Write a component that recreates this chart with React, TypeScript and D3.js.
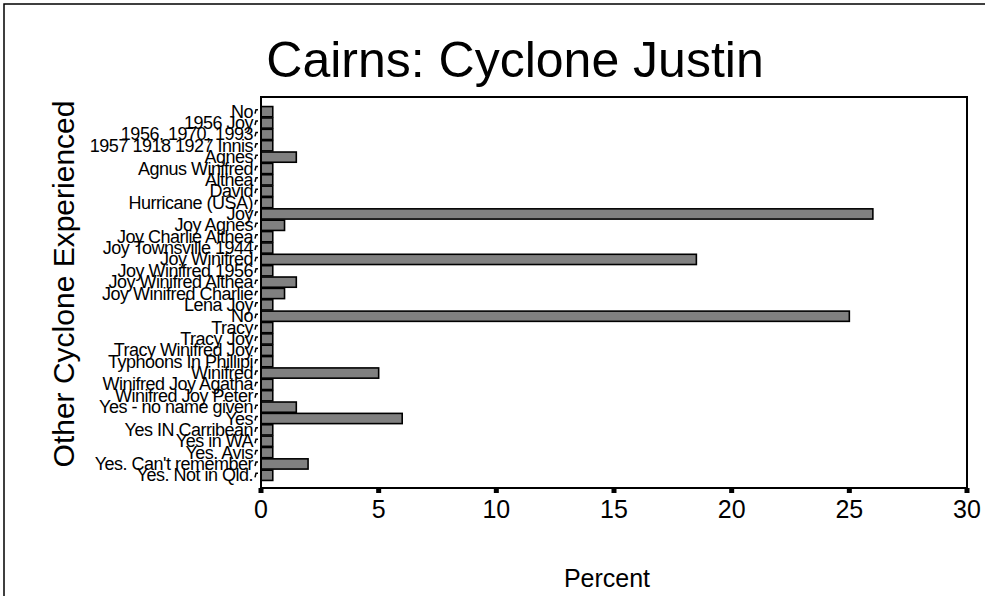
import React from "react";
import * as d3 from "d3";

const categories: string[] = [
  "No",
  "1956 Joy",
  "1956, 1970, 1993",
  "1957 1918 1927 Innis",
  "Agnes",
  "Agnus Winifred",
  "Althea",
  "David",
  "Hurricane (USA)",
  "Joy",
  "Joy Agnes",
  "Joy Charlie Althea",
  "Joy Townsville 1944",
  "Joy Winifred",
  "Joy Winifred 1956",
  "Joy Winifred Althea",
  "Joy Winifred Charlie",
  "Lena Joy",
  "No",
  "Tracy",
  "Tracy Joy",
  "Tracy Winifred Joy",
  "Typhoons In Phillipi",
  "Winifred",
  "Winifred Joy Agatha",
  "Winifred Joy Peter",
  "Yes - no name given",
  "Yes",
  "Yes IN Carribean",
  "Yes in WA",
  "Yes. Avis",
  "Yes. Can't remember",
  "Yes. Not in Qld.",
];

const percents: number[] = [
  0.5, 0.5, 0.5, 0.5, 1.5, 0.5, 0.5, 0.5, 0.5, 26.0, 1.0, 0.5, 0.5, 18.5, 0.5,
  1.5, 1.0, 0.5, 25.0, 0.5, 0.5, 0.5, 0.5, 5.0, 0.5, 0.5, 1.5, 6.0, 0.5, 0.5,
  0.5, 2.0, 0.5,
];

const xTicks: number[] = [0, 5, 10, 15, 20, 25, 30];

const title = "Cairns: Cyclone Justin";
const xTitle = "Percent";
const yTitle = "Other Cyclone Experienced";

const W = 985;
const H = 596;
const left = 261;
const right = 967;
const top = 97;
const bottom = 488;

export default function App() {
  const x = d3.scaleLinear().domain([0, 30]).range([left, right]);
  const y = d3
    .scaleBand<number>()
    .domain(categories.map((_, i) => i))
    .range([106, 481])
    .paddingInner(0.1)
    .paddingOuter(0.05);
  const font = "'Liberation Sans', Arial, Helvetica, sans-serif";

  return (
    <svg
      width={W}
      height={H}
      style={{ position: "absolute", left: 0, top: 0, background: "#fff" }}
      fontFamily={font}
    >
      <rect x={0} y={0} width={W} height={H} fill="#fff" />
      <rect x={4} y={4} width={W + 10} height={H + 10} fill="none" stroke="#000" strokeWidth={1.5} />
      <text x={515} y={77} textAnchor="middle" fontSize={50} fill="#000">
        {title}
      </text>
      {categories.map((c, i) => (
        <rect
          key={"b" + i}
          x={x(0)}
          y={y(i)!}
          width={x(percents[i]) - x(0)}
          height={y.bandwidth()}
          fill="#808080"
          stroke="#000"
          strokeWidth={1.6}
        />
      ))}
      <rect
        x={left}
        y={top}
        width={right - left}
        height={bottom - top}
        fill="none"
        stroke="#000"
        strokeWidth={2}
      />
      {categories.map((c, i) => {
        const cy = y(i)! + y.bandwidth() / 2;
        return (
          <g key={"l" + i}>
            <path
              d={`M${left - 6},${cy + 2} L${left - 5},${cy - 2} L${left - 3},${cy - 2}`}
              fill="none"
              stroke="#000"
              strokeWidth={1.5}
            />
            <text
              x={left - 8}
              y={cy + 6}
              textAnchor="end"
              fontSize={18}
              letterSpacing={-0.5}
              fill="#000"
            >
              {c}
            </text>
          </g>
        );
      })}
      {xTicks.map((t) => (
        <g key={"t" + t}>
          <rect x={x(t) - 2.5} y={bottom} width={5} height={5} fill="#000" />
          <text x={x(t)} y={518} textAnchor="middle" fontSize={25} fill="#000">
            {t}
          </text>
        </g>
      ))}
      <text x={(left + right) / 2 - 7} y={587} textAnchor="middle" fontSize={25} fill="#000">
        {xTitle}
      </text>
      <text
        transform={`translate(74,284) rotate(-90)`}
        textAnchor="middle"
        fontSize={30}
        fill="#000"
      >
        {yTitle}
      </text>
    </svg>
  );
}
